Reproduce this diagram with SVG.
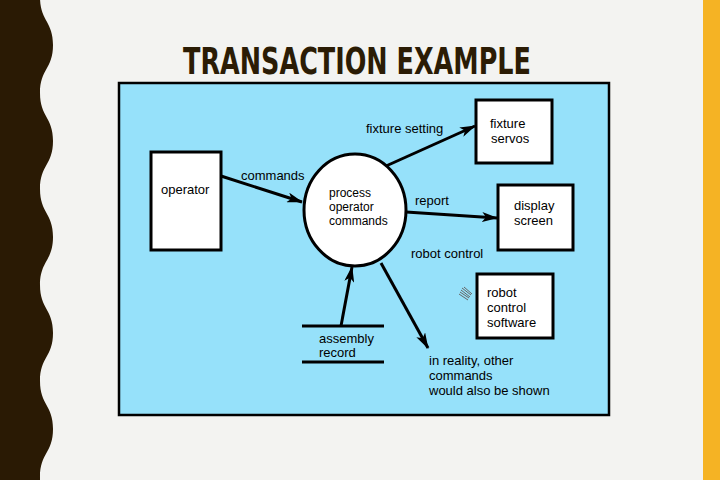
<svg xmlns="http://www.w3.org/2000/svg" width="720" height="480" viewBox="0 0 720 480">
<defs>
<style>
.t{font-family:"Liberation Sans",Arial,sans-serif;font-size:13px;fill:#000}
.s{font-family:"Liberation Sans",Arial,sans-serif;font-size:12px;fill:#000}
.box{fill:#fff;stroke:#000;stroke-width:3}
.ln{stroke:#000;stroke-width:3;fill:none}
</style>
<marker id="ah" viewBox="0 0 16 10" refX="15" refY="5" markerWidth="16" markerHeight="10" markerUnits="userSpaceOnUse" orient="auto">
<path d="M0,0 L16,5 L0,10 L4,5 Z" fill="#000"/>
</marker>
</defs>
<rect width="720" height="480" fill="#F3F3F1"/>
<rect x="703" y="0" width="17" height="480" fill="#F5B324"/>
<path d="M0,-10 L40,-10 L40,-3 C40,21 53,21 53,45 C53,69 40,69 40,93 C40,117 53,117 53,141 C53,165 40,165 40,189 C40,213 53,213 53,237 C53,261 40,261 40,285 C40,309 53,309 53,333 C53,357 40,357 40,381 C40,405 53,405 53,429 C53,453 40,453 40,477 L40,490 L0,490 Z" fill="#2A1A04"/>
<text x="183" y="74" font-family="'Liberation Sans Narrow','DejaVu Sans Condensed',sans-serif" font-weight="bold" font-size="38" fill="#2B1C05" textLength="348" lengthAdjust="spacingAndGlyphs">TRANSACTION EXAMPLE</text>
<rect x="119" y="83" width="490" height="332" fill="#96E1FA" stroke="#000" stroke-width="2.5"/>
<g id="connectors">
<line class="ln" x1="221" y1="176" x2="302" y2="202" marker-end="url(#ah)"/>
<line class="ln" x1="386" y1="166" x2="475" y2="126" marker-end="url(#ah)"/>
<line class="ln" x1="406" y1="212" x2="497" y2="218" marker-end="url(#ah)"/>
<line class="ln" x1="341" y1="326" x2="352" y2="267" marker-end="url(#ah)"/>
<line class="ln" x1="381" y1="263" x2="428" y2="348" marker-end="url(#ah)"/>
</g>
<g id="hatch" stroke="#666" stroke-width="1">
<line x1="459" y1="294" x2="468" y2="300"/>
<line x1="460" y1="292" x2="469" y2="298"/>
<line x1="461" y1="290" x2="470" y2="297"/>
<line x1="462" y1="288" x2="471" y2="295"/>
<line x1="464" y1="287" x2="472" y2="294"/>
</g>
<g id="labels">
<text class="t" x="366" y="133">fixture setting</text>
<text class="t" x="241" y="180">commands</text>
<text class="t" x="415" y="205">report</text>
<text class="t" x="411" y="258">robot control</text>
<text class="t" x="429" y="365">in reality, other</text>
<text class="t" x="429" y="380">commands</text>
<text class="t" x="429" y="395">would also be shown</text>
</g>
<g id="operator">
<rect class="box" x="151" y="152" width="70" height="98"/>
<text class="t" x="161" y="194">operator</text>
</g>
<g id="process">
<ellipse cx="355" cy="210" rx="51" ry="56" fill="#fff" stroke="#000" stroke-width="3"/>
<text class="s" x="329" y="197">process</text>
<text class="s" x="329" y="211">operator</text>
<text class="s" x="329" y="225">commands</text>
</g>
<g id="fixture-servos">
<rect class="box" x="476" y="100" width="76" height="63"/>
<text class="t" x="490" y="128">fixture</text>
<text class="t" x="491" y="143">servos</text>
</g>
<g id="display-screen">
<rect class="box" x="498" y="185" width="75" height="65"/>
<text class="t" x="514" y="210">display</text>
<text class="t" x="514" y="225">screen</text>
</g>
<g id="robot-control-software">
<rect class="box" x="477" y="274" width="76" height="64"/>
<text class="t" x="487" y="297">robot</text>
<text class="t" x="487" y="312">control</text>
<text class="t" x="487" y="327">software</text>
</g>
<g id="assembly-record">
<line class="ln" x1="302" y1="326" x2="384" y2="326"/>
<line class="ln" x1="302" y1="362" x2="384" y2="362"/>
<text class="t" x="319" y="343">assembly</text>
<text class="t" x="319" y="357">record</text>
</g>
</svg>
